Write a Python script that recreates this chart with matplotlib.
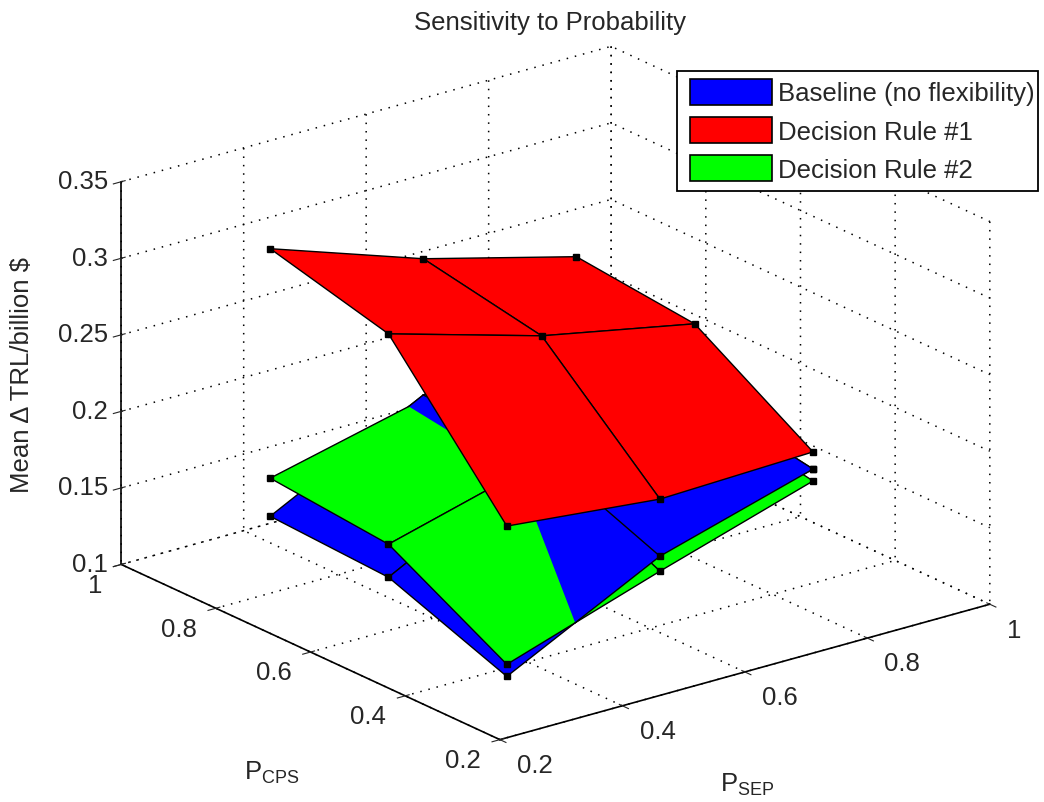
import numpy as np
import matplotlib
matplotlib.use('Agg')
import matplotlib.pyplot as plt
from matplotlib.patches import Patch, Rectangle
from mpl_toolkits.mplot3d.art3d import Poly3DCollection

# values
p_sep = [0.25, 0.5, 0.75]
p_cps = [0.25, 0.5, 0.75]
# rows are P_CPS, columns are P_SEP
baseline = [[0.1286, 0.1795, 0.2088],
            [0.1576, 0.2105, 0.2221],
            [0.1617, 0.2133, 0.2223]]
rule_1 = [[0.2268, 0.2168, 0.2200],
          [0.3166, 0.2877, 0.2679],
          [0.3365, 0.3023, 0.2760]]
rule_2 = [[0.1365, 0.1697, 0.2010],
          [0.1792, 0.2065, 0.2156],
          [0.1866, 0.2107, 0.2158]]

x_ticks = [0.2, 0.4, 0.6, 0.8, 1]
y_ticks = [0.2, 0.4, 0.6, 0.8, 1]
z_ticks = [0.1, 0.15, 0.2, 0.25, 0.3, 0.35]
x_tick_labels = ['0.2', '0.4', '0.6', '0.8', '1']
y_tick_labels = ['0.2', '0.4', '0.6', '0.8', '1']
z_tick_labels = ['0.1', '0.15', '0.2', '0.25', '0.3', '0.35']
legend_labels = ['Baseline (no flexibility)', 'Decision Rule #1', 'Decision Rule #2']

BLUE = '#0000ff'
RED = '#ff0000'
GREEN = '#00ff00'
TEXT = '#262626'
FS = 18.5

plt.rcParams['font.family'] = ['Liberation Sans', 'DejaVu Sans']
plt.rcParams['font.size'] = FS
plt.rcParams['mathtext.fontset'] = 'custom'
plt.rcParams['mathtext.rm'] = 'Liberation Sans'
plt.rcParams['grid.color'] = 'k'
plt.rcParams['grid.linestyle'] = (0, (1, 4.5))
plt.rcParams['grid.linewidth'] = 1.1


def clip_above(px, py, top, low):
    """Part of a polygon or segment where surface top lies over surface low."""
    out = []
    n = len(px)
    count = n if n > 2 else 1
    for i in range(count):
        j = (i + 1) % n
        di = top[i] - low[i]
        dj = top[j] - low[j]
        if di >= 0:
            out.append((px[i], py[i], top[i]))
        if di * dj < 0:
            t = di / (di - dj)
            out.append((px[i] + t * (px[j] - px[i]),
                        py[i] + t * (py[j] - py[i]),
                        top[i] + t * (top[j] - top[i])))
    if n == 2 and top[1] - low[1] >= 0:
        out.append((px[1], py[1], top[1]))
    return out


X, Y = np.meshgrid(p_sep, p_cps)
Z_base = np.array(baseline)
Z_one = np.array(rule_1)
Z_two = np.array(rule_2)
# only the nodes on the two near edges of the lower surfaces can be seen
near = (X == p_sep[0]) | (Y == p_cps[0])

fig = plt.figure(figsize=(10.44, 8.03), dpi=100)
ax = fig.add_axes([144.7 / 1044, -1.8 / 803, 800 / 1044, 800 / 803],
                  projection='3d', proj_type='ortho', computed_zorder=False)
ax.view_init(elev=20.95, azim=-127.7)
ax.set_box_aspect((618, 618, 409), zoom=938.6 / 800)
ax.patch.set_alpha(0)

ax.set_xlim(0.2, 1)
ax.set_ylim(0.2, 1)
ax.set_zlim(0.1, 0.35)
ax.set_xticks(x_ticks, x_tick_labels)
ax.set_yticks(y_ticks, y_tick_labels)
ax.set_zticks(z_ticks, z_tick_labels)
ax.tick_params(colors=TEXT, labelsize=FS)
ax.tick_params(axis='x', pad=5.6)
ax.tick_params(axis='y', pad=3.8)
ax.tick_params(axis='z', pad=-3.4)

# label anchors along the pad direction don't fall where the original has them
for axis, ha in ((ax.xaxis, 'left'), (ax.yaxis, 'right'), (ax.zaxis, 'right')):
    for tick in axis.get_major_ticks():
        tick.label1.set_ha(ha)
        tick.label1.set_va('center')

for axis in (ax.xaxis, ax.yaxis, ax.zaxis):
    axis.set_pane_color((1, 1, 1, 0))
    axis.pane.set_edgecolor('none')
    axis.line.set_color('k')
    axis.line.set_linewidth(1.2)

surf_opts = dict(rstride=1, cstride=1, shade=False, edgecolor='k', linewidth=1.0)
ax.plot_surface(X, Y, Z_base, color=BLUE, zorder=1, **surf_opts)
ax.plot(X[near], Y[near], Z_base[near], 's', color='k', ms=4, zorder=1.5)
ax.plot_surface(X, Y, Z_two, color=GREEN, zorder=2, **surf_opts)
ax.plot(X[near], Y[near], Z_two[near], 's', color='k', ms=4, zorder=2.5)

# baseline pokes through rule 2, painter's order can't do that on its own
polys = []
for i in range(2):
    for j in range(2):
        ii = [i, i, i + 1, i + 1]
        jj = [j, j + 1, j + 1, j]
        poly = clip_above(X[ii, jj], Y[ii, jj], Z_base[ii, jj], Z_two[ii, jj])
        if len(poly) > 2:
            polys.append(poly)
ax.add_collection3d(Poly3DCollection(polys, facecolor=BLUE, edgecolor='none', zorder=3))

for i in range(3):
    for j in range(3):
        for di, dj in ((0, 1), (1, 0)):
            if i + di > 2 or j + dj > 2:
                continue
            ii = [i, i + di]
            jj = [j, j + dj]
            seg = clip_above(X[ii, jj], Y[ii, jj], Z_base[ii, jj], Z_two[ii, jj])
            if len(seg) == 2:
                sx, sy, sz = zip(*seg)
                ax.plot(sx, sy, sz, color='k', lw=1.0, zorder=3.2)
over = (Z_base > Z_two) & near
ax.plot(X[over], Y[over], Z_base[over], 's', color='k', ms=4, zorder=3.5)

ax.plot_surface(X, Y, Z_one, color=RED, zorder=4, **surf_opts)
ax.plot(X.ravel(), Y.ravel(), Z_one.ravel(), 's', color='k', ms=4, zorder=4.5)

fig.text(550 / 1044, 1 - 23 / 803, 'Sensitivity to Probability', ha='center', va='center',
         fontsize=FS, color=TEXT)
fig.text(22 / 1044, 1 - 375 / 803, 'Mean \u0394 TRL/billion $', rotation=90, ha='center',
         va='center', fontsize=FS, color=TEXT, parse_math=False)
fig.text(272 / 1044, 1 - 773 / 803, r'$\mathrm{P_{CPS}}$', ha='center', va='center',
         fontsize=18.5, color=TEXT)
fig.text(747 / 1044, 1 - 785 / 803, r'$\mathrm{P_{SEP}}$', ha='center', va='center',
         fontsize=18.5, color=TEXT)

# legend frame is drawn apart, the original has almost no padding on its right side
fig.add_artist(Rectangle((677 / 1044, 1 - 192 / 803), 361 / 1044, 120 / 803,
                         transform=fig.transFigure, facecolor='w', edgecolor='k',
                         linewidth=1.3, zorder=4))
handles = [Patch(facecolor=c, edgecolor='k', linewidth=1.2) for c in (BLUE, RED, GREEN)]
leg = fig.legend(handles, legend_labels, loc='upper left',
                 bbox_to_anchor=(677 / 1044, 1 - 67 / 803), fontsize=FS,
                 frameon=False, labelcolor=TEXT,
                 handlelength=3.2, handleheight=1.17, handletextpad=0.25,
                 labelspacing=0.45, borderpad=0.5, borderaxespad=0)
leg.set_zorder(5)

fig.savefig('out.png', dpi=100)
